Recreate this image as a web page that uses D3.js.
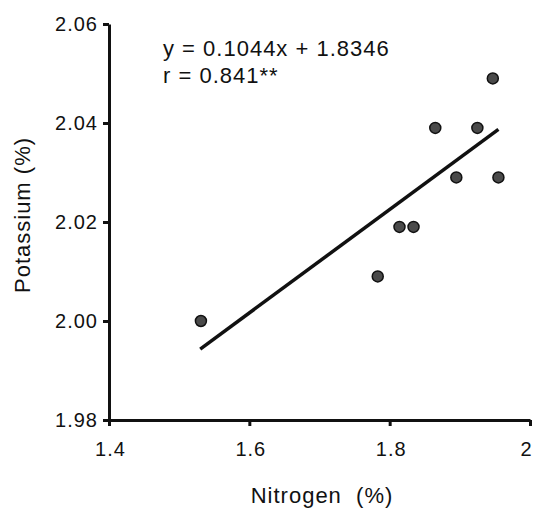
<!DOCTYPE html>
<html lang="en">
<head>
    <meta charset="UTF-8">
    <title>Nitrogen vs Potassium</title>
    <script src="https://cdn.jsdelivr.net/npm/d3@7/dist/d3.min.js"></script>
    <style>
        body { margin: 0; background: #fff; }
        text { font-family: "Liberation Sans", Arial, sans-serif; fill: #111; }
    </style>
</head>
<body>
    <svg width="536" height="513" id="mainsvg"></svg>
<script>
    // data
    const nitrogen = [1.531, 1.783, 1.814, 1.834, 1.865, 1.895, 1.925, 1.947, 1.955]
    const potassium = [2.000, 2.009, 2.019, 2.019, 2.039, 2.029, 2.039, 2.049, 2.029]
    const xTicks = [1.4, 1.6, 1.8, 2.0]
    const yTicks = [1.98, 2.00, 2.02, 2.04, 2.06]
    const slope = 0.1044
    const intercept = 1.8346
    const fitRange = [1.53, 1.955]

    const svg = d3.select('#mainsvg')
    const plotLeft = 109, plotRight = 530, plotTop = 24, plotBottom = 420

    const xScale = d3.scaleLinear().domain([1.4, 2.0]).range([plotLeft, plotRight])
    const yScale = d3.scaleLinear().domain([1.98, 2.06]).range([plotBottom, plotTop])

    const xAxis = d3.axisBottom(xScale).tickValues(xTicks)
        .tickFormat(d => d === 2 ? '2' : d3.format('.1f')(d))
        .tickSize(6).tickPadding(16).tickSizeOuter(0)
    const yAxis = d3.axisLeft(yScale).tickValues(yTicks)
        .tickFormat(d3.format('.2f'))
        .tickSize(6).tickPadding(5).tickSizeOuter(0)

    const gx = svg.append('g').attr('transform', `translate(0,${plotBottom})`).call(xAxis)
    const gy = svg.append('g').attr('transform', `translate(${plotLeft},0)`).call(yAxis)

    for (const g of [gx, gy]) {
        g.select('.domain').attr('stroke', '#111').attr('stroke-width', 3)
        g.selectAll('.tick line').attr('stroke', '#111').attr('stroke-width', 3)
        g.selectAll('.tick text').attr('font-size', 20).attr('fill', '#111')
            .attr('letter-spacing', 1)
            .attr('font-family', '"Liberation Sans", Arial, sans-serif')
    }
    // last label sits right at the page edge, nudge it in
    gx.selectAll('.tick text').attr('dx', d => d === 2 ? -4 : 1)

    // regression line
    svg.append('line')
        .attr('x1', xScale(fitRange[0])).attr('y1', yScale(slope * fitRange[0] + intercept))
        .attr('x2', xScale(fitRange[1])).attr('y2', yScale(slope * fitRange[1] + intercept))
        .attr('stroke', '#111').attr('stroke-width', 3.5)

    svg.selectAll('.dot').data(nitrogen).enter().append('circle')
        .attr('class', 'dot')
        .attr('cx', d => xScale(d))
        .attr('cy', (d, i) => yScale(potassium[i]))
        .attr('r', 5.5)
        .attr('fill', '#4a4a4a')
        .attr('stroke', '#111')
        .attr('stroke-width', 1.5)

    svg.append('text').text('y = 0.1044x + 1.8346')
        .attr('x', 163).attr('y', 56).attr('font-size', 22).attr('letter-spacing', 1)
    svg.append('text').text('r = 0.841**')
        .attr('x', 163).attr('y', 83).attr('font-size', 22).attr('letter-spacing', 1)

    svg.append('text').text('Nitrogen  (%)')
        .attr('x', 322).attr('y', 503).attr('text-anchor', 'middle')
        .attr('font-size', 22).attr('letter-spacing', 1).style('white-space', 'pre')
    svg.append('text').text('Potassium (%)')
        .attr('transform', 'translate(30,215) rotate(-90)')
        .attr('text-anchor', 'middle').attr('font-size', 22).attr('letter-spacing', 1)
</script>
</body>
</html>
